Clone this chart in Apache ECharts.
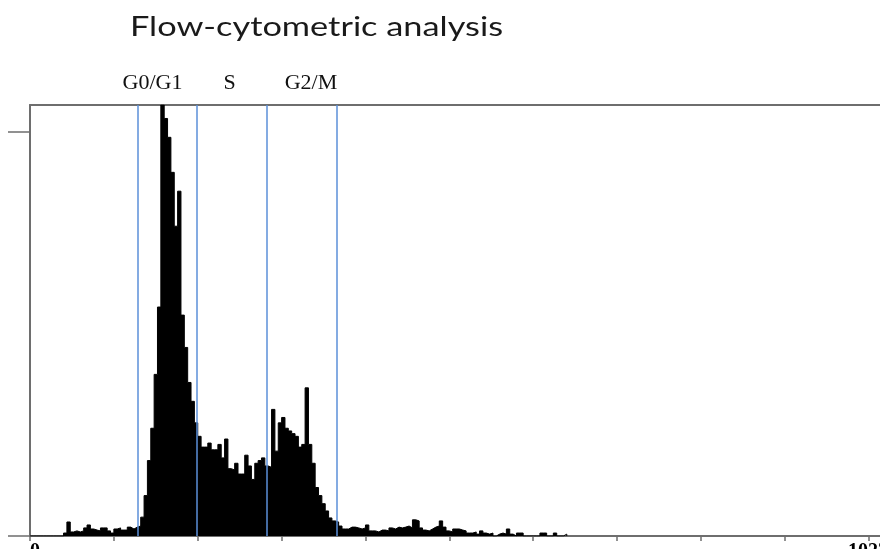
<!DOCTYPE html>
<html>
<head>
<meta charset="utf-8">
<title>Flow-cytometric analysis</title>
<script src="https://cdn.jsdelivr.net/npm/echarts@6/dist/echarts.min.js"></script>
<style>
  html, body { margin: 0; padding: 0; background: #fff; overflow: hidden; }
  #chart { width: 880px; height: 549px; }
</style>
</head>
<body>
<div id="chart"></div>
<script>
var TITLE = 'Flow-cytometric analysis';

// DNA content histogram, 4 channels per bin (channel 0..1023)
var BIN_WIDTH = 4;
var counts = [
  0, 0, 0, 0, 0, 0, 0, 0, 0, 0,
  1.1, 5.2, 1.5, 1.9, 1.5, 1.9, 3, 4.1, 2.6, 2.2,
  1.9, 3, 3, 1.9, 1.1, 2.6, 3, 2.2, 2.2, 3.3,
  2.6, 3.3, 3.7, 7, 15, 28, 40, 60, 85, 160,
  155, 148, 135, 115, 128, 82, 70, 57, 50, 42,
  37, 33, 33, 34.5, 32, 32, 34, 29, 36, 25,
  24.5, 27, 23, 23, 30, 26, 21, 27, 28, 29,
  26, 25.5, 47, 31.5, 42, 44, 40, 39, 38, 37,
  33, 34, 55, 34, 27, 18, 15, 12, 9.3, 6.7,
  5.6, 5.2, 3.7, 2.6, 2.6, 3.3, 3.3, 3, 2.6, 3,
  4.1, 1.9, 1.9, 1.5, 2.2, 2.2, 1.9, 3, 2.6, 3.3,
  3, 3.3, 3.7, 3, 6, 5.6, 3, 2.2, 1.9, 2.6,
  3.3, 3.7, 5.6, 3.3, 1.9, 1.5, 2.6, 2.6, 2.2, 1.9,
  1.1, 1.1, 1.5, 0.7, 1.9, 1.1, 0.7, 1.1, 0, 0.7,
  1.1, 0.7, 2.6, 0.7, 0, 1.1, 1.1, 0, 0, 0,
  0, 0, 1.1, 1.1, 0, 0, 1.1, 0, 0, 0.7
];

// gate boundaries (channel)
var gateChannels = [129, 199, 282, 366];
var phaseNames = ['G0/G1', 'S', 'G2/M'];
var phaseLabelChannels = [146, 238, 335];

var xTickValues = [0, 100, 200, 300, 400, 500, 600, 700, 800, 900, 1000];
var xLabelValues = [0, 1023];
var yTickValues = [0, 150];

// step outline: each point is the start of a bin, closed at the last bin end
var histData = counts.map(function (c, i) {
  return [i * BIN_WIDTH, c];
});
histData.push([counts.length * BIN_WIDTH, 0]);

var AXIS_GRAY = '#6e6e6e';
var serif = "'Liberation Serif', 'DejaVu Serif', serif";

// the title in the source is spread wide; stretch real text to that width
var titleFont = 'normal 26px Lato';
var titleWidth = 373;
var ctx = document.createElement('canvas').getContext('2d');
ctx.font = titleFont;
var titleScale = titleWidth / ctx.measureText(TITLE).width;

var chart = echarts.init(document.getElementById('chart'));

chart.setOption({
  animation: false,
  backgroundColor: '#fff',
  graphic: [
    {
      type: 'text',
      x: 130,
      y: 15,
      scaleX: titleScale,
      style: {
        text: TITLE,
        font: titleFont,
        fill: '#1a1a1a',
        textVerticalAlign: 'top'
      }
    }
  ],
  grid: {
    left: 30,
    right: -8,
    top: 105,
    bottom: 13,
    outerBoundsMode: 'none'
  },
  xAxis: [
    {
      type: 'value',
      min: 0,
      max: 1023,
      position: 'bottom',
      axisLine: { lineStyle: { color: AXIS_GRAY, width: 2 } },
      axisTick: {
        customValues: xTickValues,
        length: 5,
        lineStyle: { color: AXIS_GRAY, width: 1.5 }
      },
      axisLabel: {
        customValues: xLabelValues,
        formatter: function (v) { return String(v); },
        alignMinLabel: 'left',
        alignMaxLabel: 'right',
        margin: 6,
        fontFamily: serif,
        fontWeight: 'bold',
        fontSize: 20,
        color: '#000'
      },
      splitLine: { show: false }
    },
    {
      type: 'value',
      min: 0,
      max: 1023,
      position: 'top',
      axisLine: { show: true, lineStyle: { color: AXIS_GRAY, width: 2 } },
      axisTick: { show: false },
      axisLabel: {
        customValues: phaseLabelChannels,
        formatter: function (v) {
          return phaseNames[phaseLabelChannels.indexOf(v)];
        },
        margin: 11,
        fontFamily: serif,
        fontSize: 22,
        color: '#111'
      },
      splitLine: { show: false }
    }
  ],
  yAxis: {
    type: 'value',
    min: 0,
    max: 160,
    axisLine: { show: true, lineStyle: { color: AXIS_GRAY, width: 2 } },
    axisTick: {
      show: true,
      customValues: yTickValues,
      length: 22,
      lineStyle: { color: AXIS_GRAY, width: 1.5 }
    },
    axisLabel: { show: false },
    splitLine: { show: false }
  },
  series: [
    {
      type: 'line',
      xAxisIndex: 0,
      yAxisIndex: 0,
      step: 'end',
      symbol: 'none',
      data: histData,
      lineStyle: { color: '#000', width: 1 },
      areaStyle: { color: '#000', opacity: 1 },
      markLine: {
        silent: true,
        symbol: 'none',
        label: { show: false },
        lineStyle: { color: '#5b8fd8', width: 1.5, type: 'solid' },
        data: gateChannels.map(function (c) { return { xAxis: c }; })
      },
      z: 2
    }
  ]
});
</script>
</body>
</html>
